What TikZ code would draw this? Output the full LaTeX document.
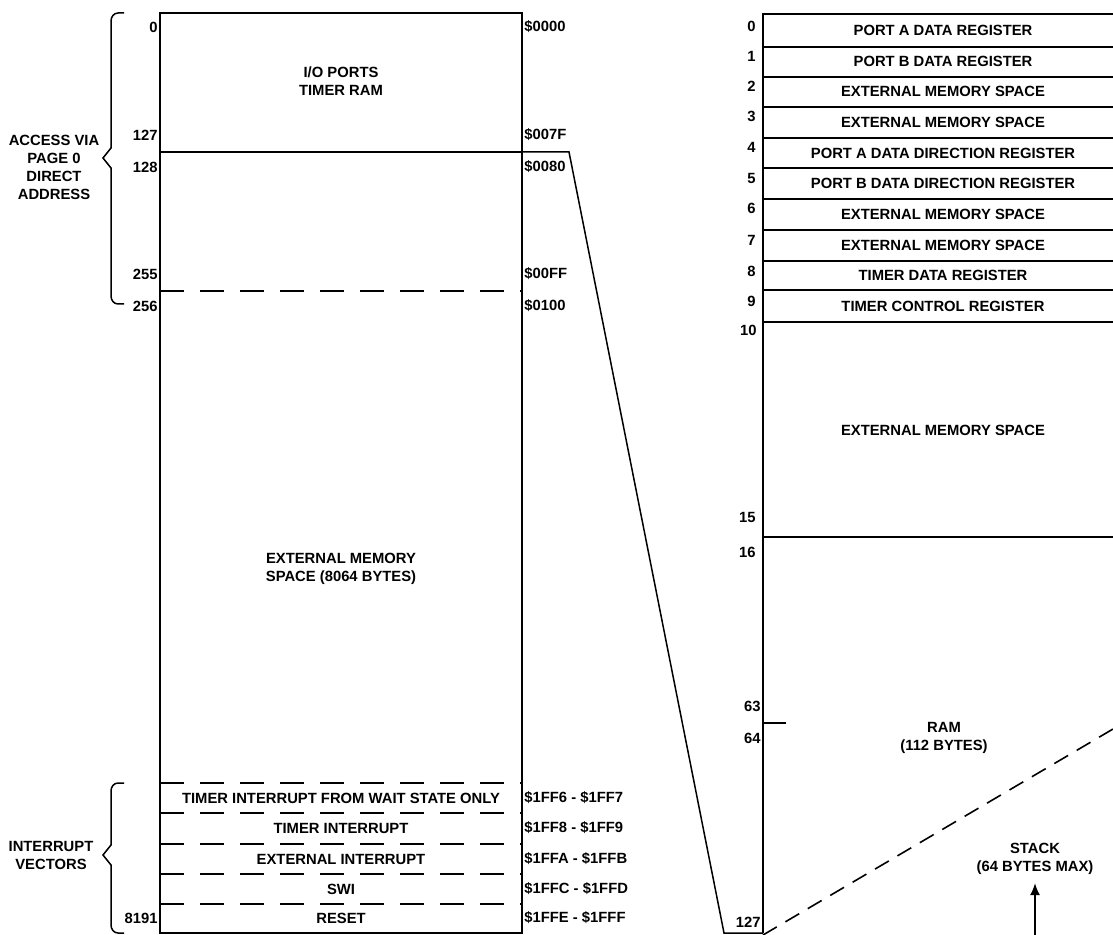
\documentclass[tikz,border=0pt]{standalone}
\usepackage{fontspec}
\setmainfont{Liberation Sans}
\usepackage{tikz}
\usetikzlibrary{positioning,arrows.meta}
\tikzset{
  boxln/.style={black, line width=1pt},
  rowln/.style={black, line width=0.9pt},
  thinln/.style={black, line width=0.75pt},
  dashln/.style={black, line width=0.9pt, dash pattern=on 12pt off 8pt},
  stackln/.style={black, line width=0.8pt, dash pattern=on 8pt off 5pt},
  lbl/.style={inner sep=0pt, font=\fontsize{7.4}{9}\selectfont\bfseries, align=center},
  numl/.style={lbl, anchor=east},
  numr/.style={lbl, anchor=west},
  edgest/.style={black, line width=0.8pt, -{Latex[length=6pt,width=5pt]}}
}

\begin{document}
\begin{tikzpicture}[x=0.5pt, y=-0.5pt]
\useasboundingbox (0,0) rectangle (1113,935);
% memory map
\draw[boxln] (160,13) rectangle (522,933);
\draw[rowln] (160,152) -- (522,152);
\foreach \y in {291,783,813,844,874,904}
  \draw[dashln] (160,\y) -- (522,\y);
\node[lbl] (io) at (341,81) {I/O PORTS\\TIMER RAM};
\node[lbl] (ext) at (341,569) {EXTERNAL MEMORY\\SPACE (8064 BYTES)};
\node[lbl] (tiw) at (341,798) {TIMER INTERRUPT FROM WAIT STATE ONLY};
\node[lbl] (ti) at (341,828) {TIMER INTERRUPT};
\node[lbl] (ei) at (341,859) {EXTERNAL INTERRUPT};
\node[lbl] (swi) at (341,889) {SWI};
\node[lbl] (rst) at (341,918) {RESET};
\node[numl] (a0) at (158,27) {0};
\node[numl] (a127) at (158,135) {127};
\node[numl] (a128) at (158,167) {128};
\node[numl] (a255) at (158,274) {255};
\node[numl] (a256) at (158,306) {256};
\node[numl] (a8191) at (158,918) {8191};
\node[numr] (h0000) at (524,27) {\$0000};
\node[numr] (h007f) at (524,135) {\$007F};
\node[numr] (h0080) at (524,167) {\$0080};
\node[numr] (h00ff) at (524,274) {\$00FF};
\node[numr] (h0100) at (524,306) {\$0100};
\node[numr] (vtw) at (524,798) {\$1FF6 - \$1FF7};
\node[numr] (vti) at (524,828) {\$1FF8 - \$1FF9};
\node[numr] (vei) at (524,859) {\$1FFA - \$1FFB};
\node[numr] (vswi) at (524,889) {\$1FFC - \$1FFD};
\node[numr] (vrst) at (524,918) {\$1FFE - \$1FFF};
% braces
\draw[thinln] (124,13) -- (118,13) to[out=180,in=90] (111,21) -- (111,148) -- (103,158)
  -- (111,168) -- (111,296) to[out=-90,in=180] (118,304) -- (124,304);
\node[lbl] (acc) at (54,167) {ACCESS VIA\\PAGE 0\\DIRECT\\ADDRESS};
\draw[thinln] (124,783) -- (118,783) to[out=180,in=90] (111,791) -- (111,845) -- (103,855)
  -- (111,865) -- (111,925) to[out=-90,in=180] (118,933) -- (124,933);
\node[lbl] (irq) at (51,855) {INTERRUPT\\VECTORS};
% page 0 detail
\draw[boxln] (1113,14) -- (763,14) -- (763,933);
\foreach \y in {46.7,76.7,106.7,138.3,168.3,199,230,260.7,290,322.3,537}
  \draw[rowln] (763,\y) -- (1113,\y);
\draw[rowln] (763,723) -- (786,723);
\node[lbl] (r0) at (943,30.3) {PORT A DATA REGISTER};
\node[lbl] (r1) at (943,61.7) {PORT B DATA REGISTER};
\node[lbl] (r2) at (943,91.7) {EXTERNAL MEMORY SPACE};
\node[lbl] (r3) at (943,122.5) {EXTERNAL MEMORY SPACE};
\node[lbl] (r4) at (943,153.3) {PORT A DATA DIRECTION REGISTER};
\node[lbl] (r5) at (943,183.7) {PORT B DATA DIRECTION REGISTER};
\node[lbl] (r6) at (943,214.5) {EXTERNAL MEMORY SPACE};
\node[lbl] (r7) at (943,245.3) {EXTERNAL MEMORY SPACE};
\node[lbl] (r8) at (943,275.4) {TIMER DATA REGISTER};
\node[lbl] (r9) at (943,306.2) {TIMER CONTROL REGISTER};
\node[lbl] (r10) at (943,430) {EXTERNAL MEMORY SPACE};
\node[lbl] (ram) at (944,738) {RAM\\(112 BYTES)};
\node[lbl] (stack) at (1035,859) {STACK\\(64 BYTES MAX)};
\node[numl] (n0) at (756,26) {0};
\node[numl] (n1) at (756,56) {1};
\node[numl] (n2) at (756,86) {2};
\node[numl] (n3) at (756,116) {3};
\node[numl] (n4) at (756,147) {4};
\node[numl] (n5) at (756,178) {5};
\node[numl] (n6) at (756,208) {6};
\node[numl] (n7) at (756,240) {7};
\node[numl] (n8) at (756,271) {8};
\node[numl] (n9) at (756,301) {9};
\node[numl] (n10) at (757,330) {10};
\node[numl] (n15) at (756,517) {15};
\node[numl] (n16) at (756,552) {16};
\node[numl] (n63) at (761,706) {63};
\node[numl] (n64) at (761,738) {64};
\node[numl] (n127) at (761,922) {127};
\draw[stackln] (763,935) -- (1113,729);
% expansion line
\coordinate (lcut) at (522,152);
\coordinate (rcut) at (763,933);
\draw[thinln] (lcut) -- (569,152) -- (724,933) -- (rcut);
\coordinate (stkfoot) at (1035,935);
\draw[edgest] (stkfoot) -- ([yshift=-4pt]stack.south);
\end{tikzpicture}
\end{document}
